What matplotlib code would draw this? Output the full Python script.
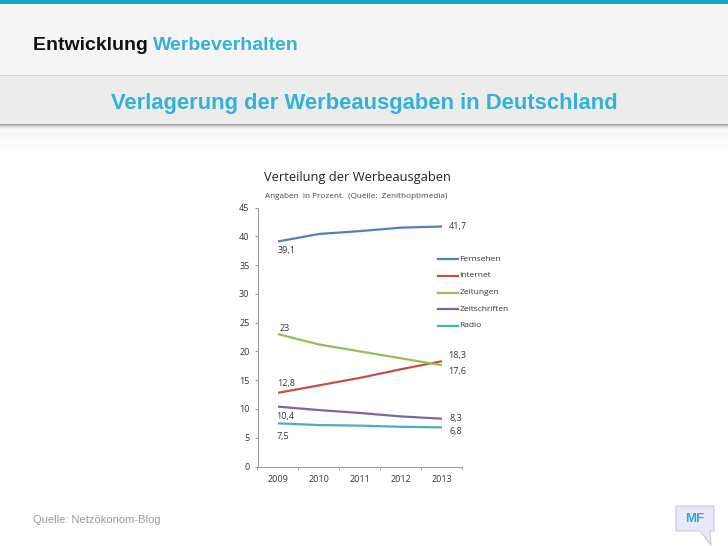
import matplotlib
matplotlib.use("Agg")
import matplotlib.pyplot as plt
import numpy as np
from matplotlib.patches import Rectangle, Polygon
from matplotlib.lines import Line2D

years = [2009, 2010, 2011, 2012, 2013]
series_names = ["Fernsehen", "Internet", "Zeitungen", "Zeitschriften", "Radio"]
fernsehen = [39.1, 40.4, 40.9, 41.5, 41.7]
internet = [12.8, 14.1, 15.4, 16.9, 18.3]
zeitungen = [23.0, 21.2, 20.0, 18.8, 17.6]
zeitschriften = [10.4, 9.8, 9.3, 8.7, 8.3]
radio = [7.5, 7.2, 7.1, 6.9, 6.8]
yticks = [0, 5, 10, 15, 20, 25, 30, 35, 40, 45]

colors = ["#4f81bd", "#c0504d", "#9bbb59", "#8064a2", "#4bacc6"]
all_series = [fernsehen, internet, zeitungen, zeitschriften, radio]

W, H = 728, 546
fig = plt.figure(figsize=(W / 100, H / 100), dpi=100)
fig.patch.set_facecolor("white")


def frect(x0, y0, w, h, **kw):
    # pixel coords from top-left
    fig.patches.append(Rectangle((x0 / W, 1 - (y0 + h) / H), w / W, h / H,
                                 transform=fig.transFigure, figure=fig, **kw))


# header bands
frect(0, 0, W, 76, facecolor="#f5f5f5", edgecolor="none", zorder=0)
frect(0, 0, W, 3.5, facecolor="#1aa3c8", edgecolor="none", zorder=1)
frect(0, 76, W, 48, facecolor="#ececec", edgecolor="none", zorder=0)
frect(0, 75, W, 1.5, facecolor="#d4d4d4", edgecolor="none", zorder=1)
shadow = ["#a4a4a4", "#c0c0c0", "#d8d8d8", "#e8e8e8", "#f0f0f0"]
for i, c in enumerate(shadow):
    frect(0, 124 + i, W, 1, facecolor=c, edgecolor="none", zorder=1)
for i in range(24):
    g = 0.965 + 0.03 * i / 23
    frect(0, 129 + i, W, 1, facecolor=(g, g, g), edgecolor="none", zorder=0)

t = fig.text(33 / W, 1 - 45 / H, "Entwicklung ", fontsize=14, fontweight="bold",
             family="Liberation Sans", color="#111111", va="center", ha="left")
fig.canvas.draw()
bb = t.get_window_extent()
fig.text(bb.x1 / W, 1 - 45 / H, "Werbeverhalten", fontsize=14, fontweight="bold",
         family="Liberation Sans", color="#33b1d6", va="center", ha="left")

fig.text(364 / W, 1 - 103 / H, "Verlagerung der Werbeausgaben in Deutschland",
         fontsize=15.8, fontweight="bold", family="Liberation Sans",
         color="#33b1d6", va="center", ha="center")

fig.text(33 / W, 1 - 520 / H, "Quelle: Netzökonom-Blog", fontsize=8,
         family="Liberation Sans", color="#9a9a9a", va="center", ha="left")

# MF bubble
bx0, by0, bx1, by1 = 676, 506, 714, 531
pts = [(bx0, by0), (bx1, by0), (bx1, by1), (710, by1), (711, 545), (700, by1), (bx0, by1)]
fig.patches.append(Polygon([(x / W, 1 - y / H) for x, y in pts], closed=True,
                           transform=fig.transFigure, figure=fig,
                           facecolor="#e8e8f6", edgecolor="#c9c9dc", linewidth=0.8, zorder=2))
fig.text(695 / W, 1 - 519 / H, "MF", fontsize=9.5, fontweight="bold",
         family="Liberation Sans", color="#2fa9d4", va="center", ha="center", zorder=3)

# chart
ax_l, ax_r, ax_b, ax_t = 257.5, 462.5, 466.5, 207.5
ax = fig.add_axes([ax_l / W, 1 - ax_b / H, (ax_r - ax_l) / W, (ax_b - ax_t) / H])
ax.set_facecolor("none")
for name, vals, c in zip(series_names, all_series, colors):
    ax.plot(years, vals, color=c, linewidth=1.6, label=name, solid_capstyle="butt")
ax.set_xlim(2008.5, 2013.5)
ax.set_ylim(0, 45)
ax.set_yticks(yticks)
ax.set_yticklabels([str(v) for v in yticks])
ax.set_xticks(years)
ax.set_xticklabels([str(y) for y in years])
ax.set_xticks([2008.5 + i for i in range(6)], minor=True)
ax.tick_params(axis="x", which="major", length=0, pad=6, labelsize=6.5, labelcolor="#333333")
ax.tick_params(axis="x", which="minor", length=2.5, color="#9a9a9a", direction="out")
ax.tick_params(axis="y", which="major", length=2.2, color="#9a9a9a", pad=3.6,
               labelsize=6.5, labelcolor="#333333")
for s in ["top", "right"]:
    ax.spines[s].set_visible(False)
for s in ["left", "bottom"]:
    ax.spines[s].set_color("#9a9a9a")
    ax.spines[s].set_linewidth(0.8)
for lab in ax.get_xticklabels() + ax.get_yticklabels():
    lab.set_family("Open Sans")

lab_kw = dict(textcoords="offset pixels", fontsize=6.5, family="Open Sans",
              color="#333333", va="center", ha="left")


def dlabel(x, y, dx, dy):
    ax.annotate(f"{y:g}".replace(".", ","), (x, y), xytext=(dx, dy), **lab_kw)


dlabel(years[0], fernsehen[0], 0, -9)
dlabel(years[-1], fernsehen[-1], 7, 0)
dlabel(years[0], zeitungen[0], 2, 6)
dlabel(years[0], internet[0], -1, 9)
dlabel(years[-1], internet[-1], 6, 6)
dlabel(years[-1], zeitungen[-1], 6, -6)
dlabel(years[0], zeitschriften[0], -2, -10)
dlabel(years[-1], zeitschriften[-1], 8, 0)
dlabel(years[0], radio[0], -1, -13)
dlabel(years[-1], radio[-1], 8, -4)

# legend (manual, in pixel coords)
ly0 = 259.3
for i, (name, c) in enumerate(zip(series_names, colors)):
    y = 1 - (ly0 + i * 16.6) / H
    fig.lines.append(Line2D([438 / W, 458 / W], [y, y], color=c, linewidth=1.6,
                            transform=fig.transFigure, figure=fig))
    fig.text(459.5 / W, y, name, fontsize=6, family="Open Sans", color="#333333",
             va="center", ha="left")

fig.text(264 / W, 1 - 178 / H, "Verteilung der Werbeausgaben", fontsize=9.3,
         family="Open Sans", color="#222222", va="center", ha="left")
fig.text(265 / W, 1 - 196 / H, "Angaben  in Prozent.  (Quelle:  Zenithoptimedia)", fontsize=5.9,
         family="Open Sans", color="#444444", va="center", ha="left")

fig.savefig("out.png", dpi=100, facecolor="white")
